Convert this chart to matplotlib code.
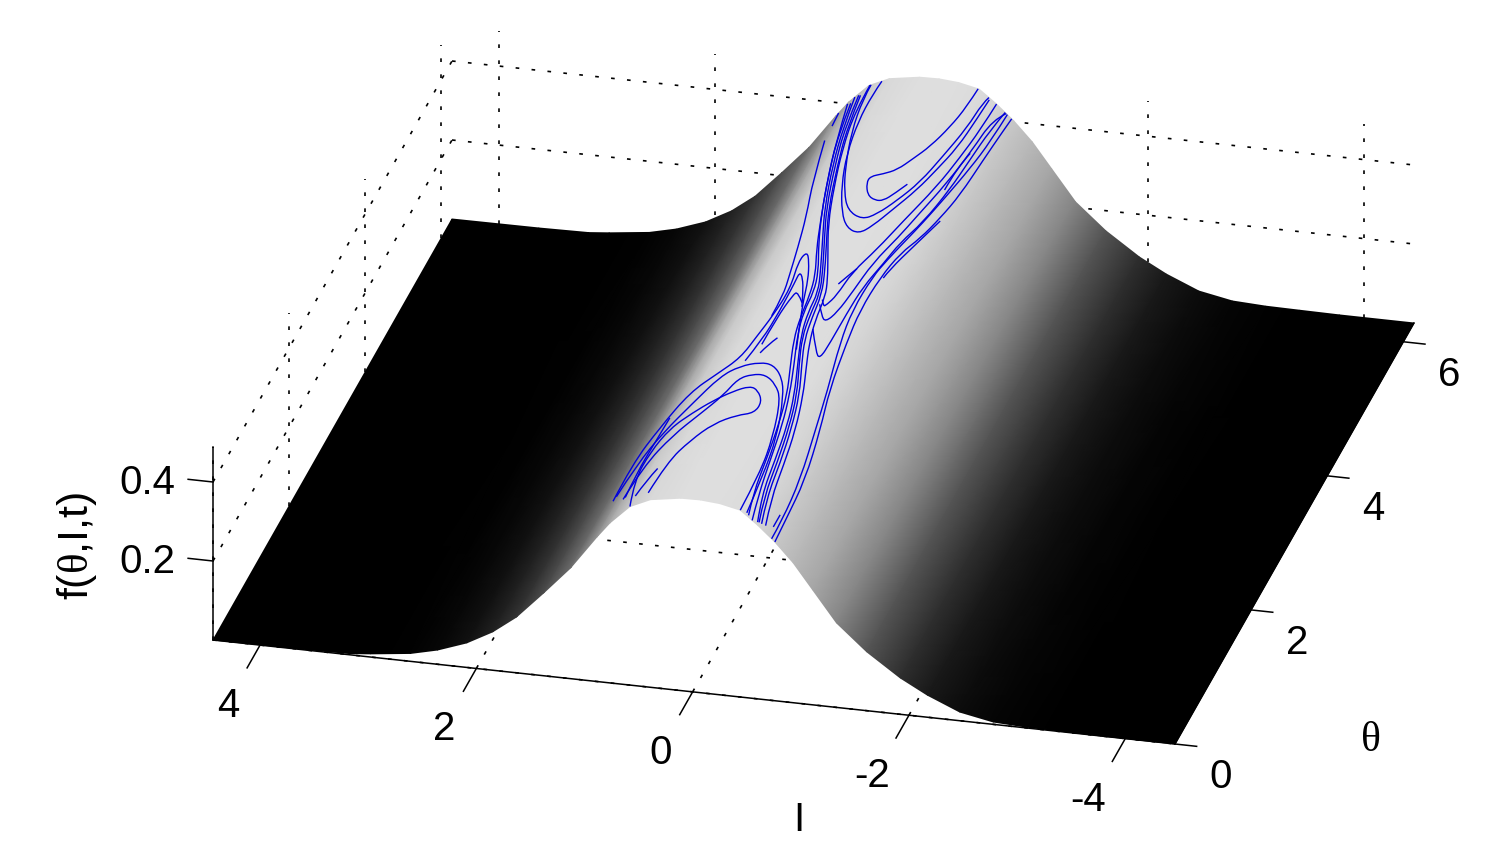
import numpy as np
import matplotlib
matplotlib.use('Agg')
from matplotlib import pyplot as plt
from matplotlib.path import Path
from matplotlib.patches import PathPatch

plt.rcParams['font.family'] = 'Liberation Sans'
plt.rcParams['mathtext.fontset'] = 'custom'
plt.rcParams['mathtext.rm'] = 'Liberation Sans'
plt.rcParams['mathtext.cal'] = 'Liberation Serif'

I_min, I_max = -4.46, 4.435
theta_max = 6.28
z_max = 0.489

I_ticks = [4, 2, 0, -2, -4]
theta_ticks = [0, 2, 4, 6]
z_ticks = [0.2, 0.4]

# height and grey level of the surface along I, they do not change with theta
prof_I = [4.435, 3.63, 3.17, 2.98, 2.61, 2.36, 2.09, 1.85, 1.63, 1.38, 1.13, .885, .765, .58, .39, .11, -.07,
          -.25, -.44, -.60, -.76, -.93, -1.11, -1.33, -1.61, -1.92, -2.17, -2.47, -2.78, -3.09, -3.40, -3.77, -4.46]
prof_z = [0, .001, .003, .008, .020, .036, .062, .097, .141, .209, .280, .366, .405, .452, .475, .487, .488,
          .484, .473, .44, .402, .354, .291, .214, .149, .092, .056, .022, .006, .002, .001, 0, 0]
prof_grey = [0, 0, 0, 0, .01, .03, .07, .13, .2, .3, .42, .58, .67, .79, .85, .87, .87,
             .87, .86, .83, .78, .72, .65, .52, .33, .18, .1, .05, .02, .01, 0, 0, 0]

# phase space curves drawn on the surface, I and theta
a_I = [-0.43, -0.42, -0.38, -0.31, -0.23, -0.15, -0.05, 0.05, 0.05, -0.02, -0.11, -0.18, -0.24, -0.30]
a_T = [6.28, 6.01, 5.69, 5.36, 5.14, 4.95, 4.86, 4.81, 4.71, 4.54, 4.48, 4.50, 4.62, 4.79]
b_I = [0.56, 0.56, 0.48, 0.33, 0.21, 0.08, -0.09, -0.19, -0.29, -0.39, -0.45, -0.50, -0.51, -0.53]
b_T = [6.28, 6.07, 5.54, 4.95, 4.58, 4.30, 4.19, 4.30, 4.54, 4.87, 5.29, 5.79, 6.17, 6.28]
c_I = [0.46, 0.48, 0.47, 0.39, 0.27, 0.12, -0.00, -0.13, -0.21, -0.30, -0.40, -0.46, -0.51, -0.53, -0.54]
c_T = [6.28, 6.09, 5.69, 5.16, 4.68, 4.26, 4.05, 3.99, 4.13, 4.42, 4.76, 5.11, 5.51, 5.95, 6.26]
d1_I = [0.71, 0.61, 0.48, 0.31, 0.16, 0.02, -0.07, -0.08, -0.13, -0.24, -0.35, -0.43, -0.48, -0.52, -0.59]
d1_T = [6.28, 5.69, 5.05, 4.35, 3.87, 3.42, 3.10, 2.81, 2.48, 2.08, 1.68, 1.27, 0.80, 0.34, 0.03]
d2_I = [0.63, 0.55, 0.42, 0.27, 0.12, -0.02, -0.11, -0.14, -0.18, -0.27, -0.39, -0.47, -0.52, -0.56, -0.62]
d2_T = [6.20, 5.61, 5.00, 4.34, 3.86, 3.42, 3.08, 2.74, 2.43, 2.10, 1.70, 1.26, 0.83, 0.36, 0.05]
d3_I = [0.72, 0.62, 0.46, 0.31, 0.17, 0.03, -0.03, -0.04, -0.10, -0.21, -0.31, -0.39, -0.45, -0.50, -0.55]
d3_T = [6.20, 5.58, 4.88, 4.27, 3.79, 3.39, 3.10, 2.80, 2.47, 2.07, 1.67, 1.25, 0.76, 0.31, 0.00]
d4_I = [0.77, 0.60, 0.43, 0.27, 0.16, 0.04, -0.01, -0.04, -0.09, -0.20, -0.29, -0.36, -0.42, -0.46, -0.51]
d4_T = [6.26, 5.48, 4.75, 4.12, 3.71, 3.34, 3.05, 2.71, 2.40, 1.99, 1.66, 1.24, 0.74, 0.29, 0.02]
d5_I = [0.57, 0.57, 0.47, 0.33, 0.19, 0.03, -0.09, -0.15, -0.18, -0.24, -0.33, -0.42, -0.50, -0.55, -0.59, -0.65]
d5_T = [6.28, 5.89, 5.27, 4.65, 4.10, 3.64, 3.29, 3.06, 2.70, 2.38, 2.04, 1.71, 1.28, 0.83, 0.39, 0.07]
d6_I = [0.86, 0.84]
d6_T = [6.28, 6.05]
d7_I = [0.66, 0.58, 0.45, 0.29, 0.14, 0.00, -0.09, -0.11, -0.15, -0.25, -0.37, -0.45, -0.50, -0.54, -0.60]
d7_T = [6.24, 5.65, 5.02, 4.34, 3.86, 3.42, 3.09, 2.77, 2.45, 2.09, 1.69, 1.26, 0.81, 0.35, 0.04]
m_I = [0.82, 0.61, 0.45, 0.35, 0.28, 0.23, 0.23]
m_T = [5.80, 4.89, 4.27, 3.76, 3.34, 3.03, 2.73]
e1_I = [1.00, 1.05, 0.86, 0.66, 0.44, 0.30, 0.26, 0.22, 0.20, 0.27, 0.24, 0.17, 0.08, 0.02, -0.07, -0.16]
e1_T = [0.75, 1.40, 1.59, 1.81, 1.91, 2.11, 2.43, 2.73, 3.13, 3.55, 3.69, 3.54, 3.26, 2.97, 2.61, 2.27]
e2_I = [0.24, 0.19, 0.18, 0.19, 0.20, 0.14, 0.06, -0.00]
e2_T = [2.06, 2.38, 2.79, 3.23, 3.38, 3.29, 3.07, 2.87]
e3_I = [0.17, 0.17, 0.14, 0.11, 0.02]
e3_T = [2.30, 2.70, 3.04, 3.08, 2.93]
f1_I = [0.98, 0.91, 0.73, 0.53, 0.39, 0.26, 0.09, -0.04, -0.17, -0.27, -0.40, -0.46, -0.49]
f1_T = [0.78, 1.14, 1.30, 1.52, 1.84, 1.98, 2.03, 2.01, 1.86, 1.62, 1.08, 0.53, 0.03]
f3_I = [0.77, 0.74, 0.55, 0.38, 0.26, 0.21, 0.10, -0.02, -0.15, -0.26, -0.37, -0.43, -0.44]
f3_T = [0.36, 0.81, 1.05, 1.28, 1.55, 1.79, 1.85, 1.86, 1.75, 1.57, 1.06, 0.55, 0.00]
g_I = [0.46, 0.44, 0.33, 0.20, 0.03, -0.11, -0.12, -0.03, 0.06, 0.19, 0.33, 0.47, 0.65, 0.76, 0.76, 0.58]
g_T = [0.14, 0.59, 0.88, 1.12, 1.25, 1.31, 1.48, 1.63, 1.68, 1.60, 1.47, 1.34, 1.26, 1.05, 0.63, 0.00]
h1_I = [0.76, 0.78, 0.80, 0.75]
h1_T = [1.56, 1.22, 0.80, 0.36]
h2_I = [0.51, 0.56, 0.59]
h2_T = [0.53, 0.38, 0.17]
v1_I = [-0.14, -0.18, -0.20, -0.24, -0.26, -0.35, -0.43, -0.52, -0.56, -0.59, -0.60]
v1_T = [3.01, 2.92, 2.95, 3.10, 3.46, 3.84, 4.30, 4.94, 5.42, 5.88, 6.28]
v2_I = [-0.14, -0.21, -0.27, -0.32, -0.35, -0.38, -0.46, -0.50, -0.57, -0.61, -0.63, -0.69]
v2_T = [2.94, 2.79, 2.72, 2.89, 3.22, 3.66, 4.10, 4.46, 5.06, 5.61, 6.09, 6.28]
v3_I = [-0.20, -0.33, -0.39, -0.40, -0.40, -0.41, -0.46, -0.49, -0.56, -0.61, -0.63, -0.65, -0.68]
v3_T = [2.59, 2.30, 2.23, 2.48, 2.92, 3.32, 3.71, 4.06, 4.46, 5.02, 5.49, 5.96, 6.28]
p1_I = [-0.73, -0.73, -0.70, -0.62, -0.56, -0.47, -0.43, -0.44, -0.47, -0.52, -0.56, -0.61, -0.66, -0.69, -0.70]
p1_T = [0.00, 0.28, 0.84, 1.48, 1.95, 2.54, 2.98, 3.48, 3.77, 4.15, 4.45, 4.90, 5.42, 5.86, 6.28]
p2_I = [-0.76, -0.75, -0.73, -0.65, -0.57, -0.51, -0.48, -0.49, -0.53, -0.60, -0.65, -0.69, -0.71, -0.73, -0.74]
p2_T = [0.00, 0.32, 0.88, 1.51, 1.98, 2.60, 3.04, 3.54, 3.96, 4.28, 4.66, 5.07, 5.62, 6.08, 6.28]
k1_I = [-0.51, -0.52, -0.59, -0.66]
k1_T = [3.56, 3.70, 4.16, 4.63]
k2_I = [-0.58, -0.58, -0.61]
k2_T = [4.97, 5.31, 5.56]
k3_I = [-0.70, -0.70]
k3_T = [0.13, 0.31]
s1_I = [0.14, 0.11, 0.06]
s1_T = [2.17, 2.29, 2.40]
s2_I = [-0.20, -0.23, -0.28]
s2_T = [3.26, 3.36, 3.52]

blue_curves = [(a_I, a_T), (b_I, b_T), (c_I, c_T), (d1_I, d1_T), (d2_I, d2_T), (d3_I, d3_T), (d4_I, d4_T),
               (d5_I, d5_T), (d6_I, d6_T), (d7_I, d7_T), (m_I, m_T), (e1_I, e1_T), (e2_I, e2_T), (e3_I, e3_T),
               (f1_I, f1_T), (f3_I, f3_T), (g_I, g_T), (h1_I, h1_T), (h2_I, h2_T), (v1_I, v1_T), (v2_I, v2_T),
               (v3_I, v3_T), (p1_I, p1_T), (p2_I, p2_T), (k1_I, k1_T), (k2_I, k2_T), (k3_I, k3_T), (s1_I, s1_T),
               (s2_I, s2_T)]


# parallel projection of the box onto the picture
def project(I, theta, z):
    u = (I_max - np.asarray(I, float)) / (I_max - I_min)
    v = np.asarray(theta, float) / theta_max
    x = 213 + 962 * u + 239 * v
    y = 640 + 104 * u - 421 * v - 395 * np.asarray(z, float)
    return x, y


def line3d(I, theta, z, **kw):
    x, y = project(I, theta, z)
    ax.plot(x, y, **kw)


# quadratic bezier through the midpoints so the read points give a round line
def smooth_path(x, y):
    pts = np.column_stack([x, y])
    if len(pts) < 3:
        return Path(pts)
    verts = [pts[0]]
    codes = [Path.MOVETO]
    for i in range(1, len(pts) - 1):
        end = pts[i + 1] if i == len(pts) - 2 else (pts[i] + pts[i + 1]) / 2
        verts += [pts[i], end]
        codes += [Path.CURVE3, Path.CURVE3]
    return Path(verts, codes)


fig = plt.figure(figsize=(14.92, 8.59), dpi=100)
ax = fig.add_axes([0, 0, 1, 1])
ax.set_xlim(0, 1492)
ax.set_ylim(859, 0)
ax.axis('off')

dotted = dict(color='k', lw=1.2, ls=(0, (2.2, 7.4)), zorder=1)
for I in I_ticks:
    line3d([I, I], [0, theta_max], [0, 0], **dotted)
    line3d([I, I], [theta_max, theta_max], [0, z_max], **dotted)
for t in theta_ticks:
    line3d([I_max, I_min], [t, t], [0, 0], **dotted)
    line3d([I_max, I_max], [t, t], [0, z_max], **dotted)
for z in z_ticks:
    line3d([I_max, I_max], [0, theta_max], [z, z], **dotted)
    line3d([I_max, I_min], [theta_max, theta_max], [z, z], **dotted)

# the surface, gouraud shading gives the smooth grey ramp
II = np.array([prof_I, prof_I])
TT = np.array([[0.0] * len(prof_I), [theta_max] * len(prof_I)])
ZZ = np.array([prof_z, prof_z])
CC = np.array([prof_grey, prof_grey])
X, Y = project(II, TT, ZZ)
ax.pcolormesh(X, Y, CC, shading='gouraud', cmap='gray', vmin=0, vmax=1, zorder=2, antialiased=False)

solid = dict(color='k', lw=1.1, zorder=3)
line3d([I_max, I_min], [0, 0], [0, 0], **solid)
line3d([I_min, I_min], [0, theta_max], [0, 0], **solid)
line3d([I_max, I_max], [0, 0], [0, z_max], **solid)

for I_c, T_c in blue_curves:
    z_c = np.interp(I_c, prof_I[::-1], prof_z[::-1])
    x_c, y_c = project(I_c, T_c, z_c)
    ax.add_patch(PathPatch(smooth_path(x_c, y_c), fill=False, edgecolor='#0000dc', lw=1.0, zorder=4))

font = 29
for I in I_ticks:
    line3d([I, I], [0, -0.34], [0, 0], **solid)
    x, y = project(I, 0, 0)
    ax.text(x - (37 if I < 0 else 32), y + 61, str(I), fontsize=font, ha='center', va='center')
for t in theta_ticks:
    line3d([I_min, I_min - 0.2], [t, t], [0, 0], **solid)
    x, y = project(I_min, t, 0)
    ax.text(x + 46, y + 33, str(t), fontsize=font, ha='center', va='center')
for z in z_ticks:
    line3d([I_max, I_max + 0.23], [0, 0], [z, z], **solid)
    x, y = project(I_max, 0, z)
    ax.text(x - 66, y + 1, str(z), fontsize=font, ha='center', va='center')

ax.text(799, 820, 'I', fontsize=font, ha='center', va='center')
ax.text(1371, 741, '\u03b8', fontsize=30, family='Liberation Serif', ha='center', va='center')
ax.text(77, 546, r'f($\mathcal{\theta}$,I,t)', fontsize=31, rotation=90, ha='center', va='center')

fig.savefig('out.png', dpi=100)
